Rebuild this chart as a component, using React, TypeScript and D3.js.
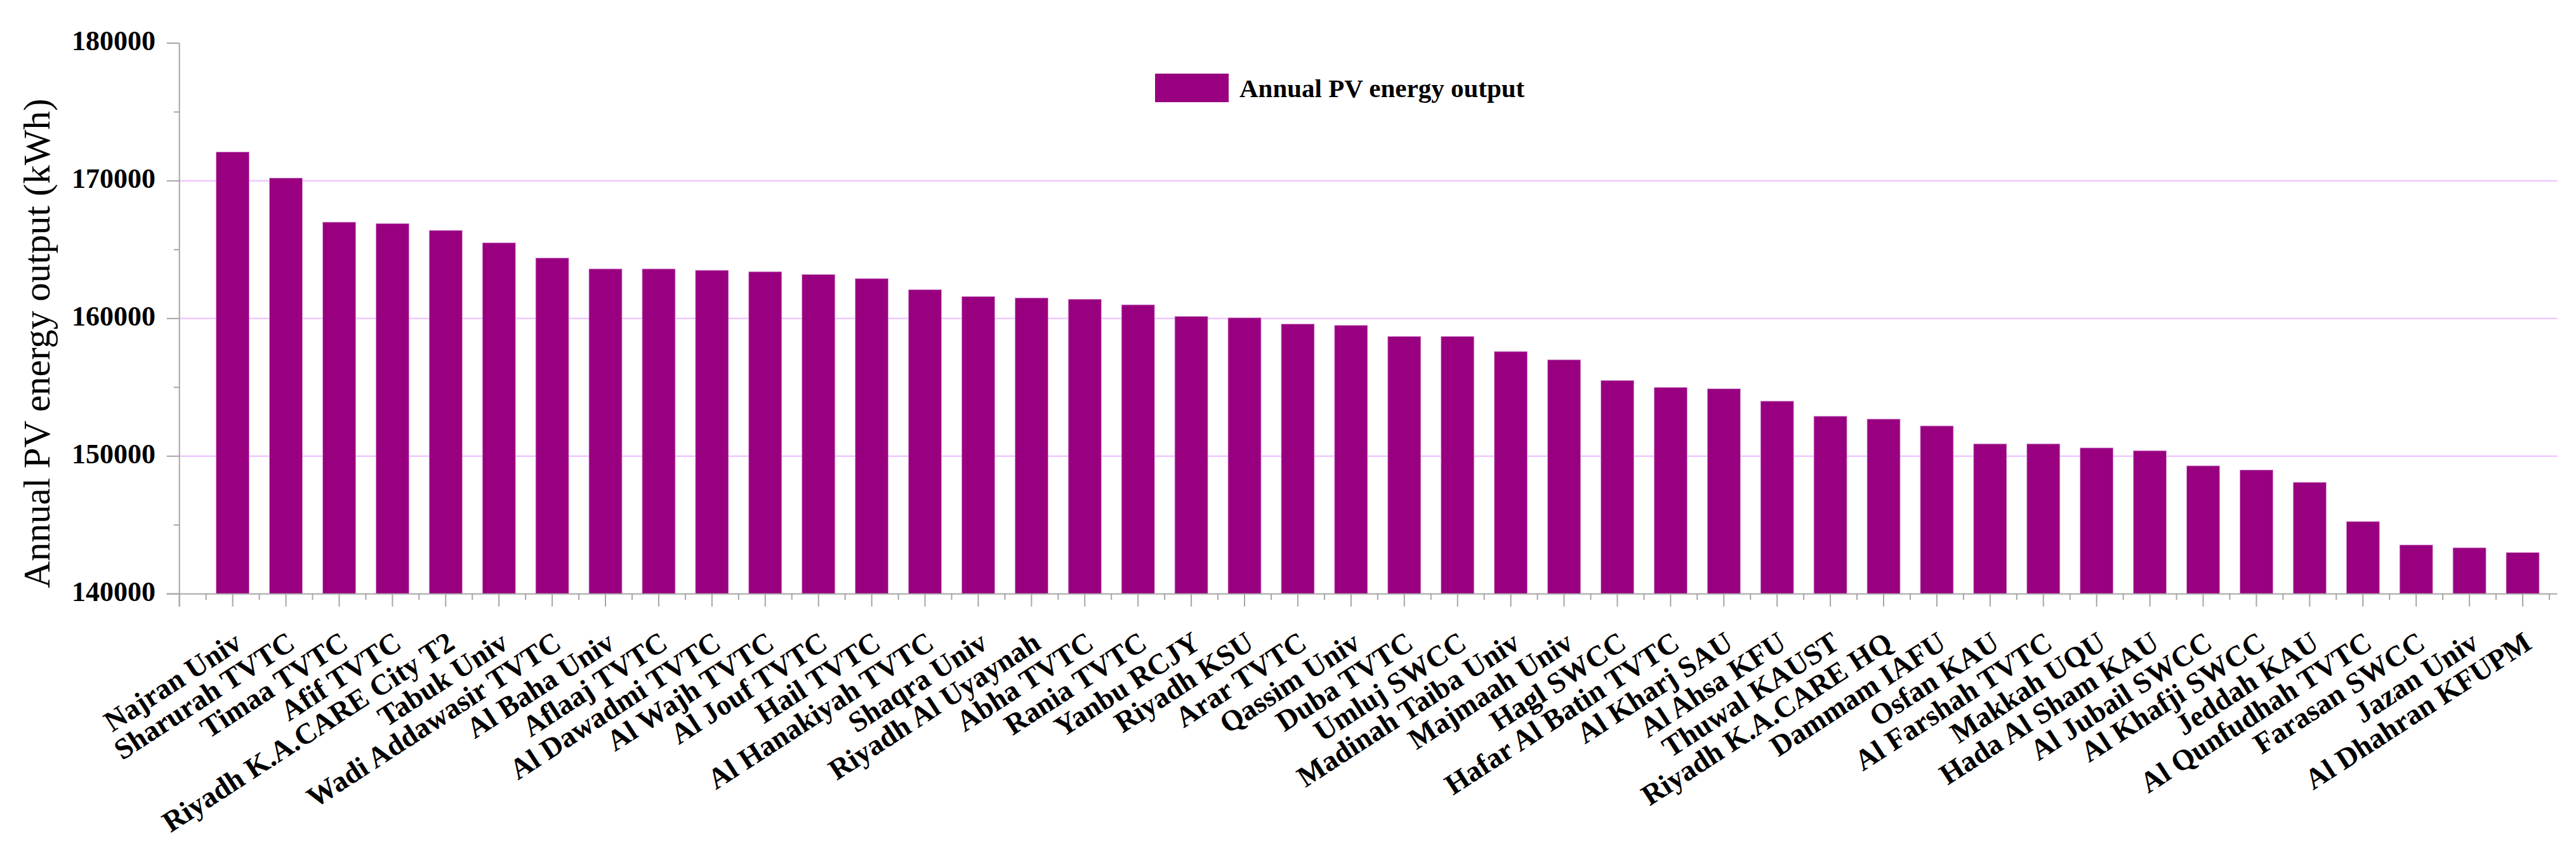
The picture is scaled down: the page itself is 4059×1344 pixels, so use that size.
import React from "react";
import * as d3 from "d3";

const categories: string[] = [
  "Najran Univ", "Sharurah TVTC", "Timaa TVTC", "Afif TVTC", "Riyadh K.A.CARE City T2",
  "Tabuk Univ", "Wadi Addawasir TVTC", "Al Baha Univ", "Aflaaj TVTC", "Al Dawadmi TVTC",
  "Al Wajh TVTC", "Al Jouf TVTC", "Hail TVTC", "Al Hanakiyah TVTC", "Shaqra Univ",
  "Riyadh Al Uyaynah", "Abha TVTC", "Rania TVTC", "Yanbu RCJY", "Riyadh KSU",
  "Arar TVTC", "Qassim Univ", "Duba TVTC", "Umluj SWCC", "Madinah Taiba Univ",
  "Majmaah Univ", "Hagl SWCC", "Hafar Al Batin TVTC", "Al Kharj SAU", "Al Ahsa KFU",
  "Thuwal KAUST", "Riyadh K.A.CARE HQ", "Dammam IAFU", "Osfan KAU", "Al Farshah TVTC",
  "Makkah UQU", "Hada Al Sham KAU", "Al Jubail SWCC", "Al Khafji SWCC", "Jeddah KAU",
  "Al Qunfudhah TVTC", "Farasan SWCC", "Jazan Univ", "Al Dhahran KFUPM",
];

const annualOutput: number[] = [
  172100, 170200, 167000, 166900, 166400,
  165500, 164400, 163600, 163600, 163500,
  163400, 163200, 162900, 162100, 161600,
  161500, 161400, 161000, 160150, 160050,
  159600, 159500, 158700, 158700, 157600,
  157000, 155500, 155000, 154900, 154000,
  152900, 152700, 152200, 150900, 150900,
  150600, 150400, 149300, 149000, 148100,
  145250, 143550, 143350, 143000,
];

const yMajorTicks: number[] = [140000, 150000, 160000, 170000, 180000];
const yMinorTicks: number[] = [145000, 155000, 165000, 175000];
const gridValues: number[] = [150000, 160000, 170000];

const seriesName = "Annual PV energy output";
const yTitle = "Annual PV energy output (kWh)";

const W = 4059;
const H = 1344;
const BAR_COLOR = "#990080";
const AXIS_COLOR = "#a6a6a6";
const GRID_COLOR = "#f0c8ff";
const SERIF = "'Liberation Serif', 'Times New Roman', Times, serif";

export default function App() {
  const n = categories.length;
  const x = d3.scaleLinear().domain([0, n]).range([282.7, 3975]);
  const y = d3.scaleLinear().domain([140000, 180000]).range([935.7, 68]);
  const step = x(1) - x(0);
  const barW = step * 0.62;
  const axisEnd = x(n + 0.65);
  const y0 = y(140000);

  const xMajor = d3.range(0, n + 1);
  const xMinor = d3.range(0, n + 1).map((i) => i + 0.5);

  return (
    <svg
      width={W}
      height={H}
      style={{ position: "absolute", left: 0, top: 0, background: "#fff" }}
    >
      <rect x={0} y={0} width={W} height={H} fill="#fff" />
      {gridValues.map((v) => (
        <line key={"g" + v} x1={x(0)} x2={axisEnd} y1={y(v)} y2={y(v)} stroke={GRID_COLOR} strokeWidth={2.5} />
      ))}
      {annualOutput.map((v, i) => (
        <rect
          key={"b" + i}
          x={x(i + 1) - barW / 2}
          y={y(v)}
          width={barW}
          height={y0 - y(v)}
          fill={BAR_COLOR}
          stroke="#d9a0d9"
          strokeWidth={0.8}
        />
      ))}
      <line x1={x(0)} x2={x(0)} y1={y(180000)} y2={y0 + 20} stroke={AXIS_COLOR} strokeWidth={2} />
      {yMajorTicks.map((v) => (
        <line key={"ym" + v} x1={x(0) - 20} x2={x(0)} y1={y(v)} y2={y(v)} stroke={AXIS_COLOR} strokeWidth={2} />
      ))}
      {yMinorTicks.map((v) => (
        <line key={"yn" + v} x1={x(0) - 9} x2={x(0)} y1={y(v)} y2={y(v)} stroke={AXIS_COLOR} strokeWidth={2} />
      ))}
      {yMajorTicks.map((v) => (
        <text
          key={"yl" + v}
          x={245}
          y={y(v) + 11}
          textAnchor="end"
          fontFamily={SERIF}
          fontWeight="bold"
          fontSize={44}
          fill="#000"
        >
          {v}
        </text>
      ))}
      <line x1={x(0) - 20} x2={axisEnd} y1={y0} y2={y0} stroke={AXIS_COLOR} strokeWidth={2} />
      {xMajor.map((i) => (
        <line key={"xm" + i} x1={x(i)} x2={x(i)} y1={y0} y2={y0 + 20} stroke={AXIS_COLOR} strokeWidth={2} />
      ))}
      {xMinor.map((i) => (
        <line key={"xn" + i} x1={x(i)} x2={x(i)} y1={y0} y2={y0 + 9.5} stroke={AXIS_COLOR} strokeWidth={2} />
      ))}
      {categories.map((c, i) => {
        const px = x(i + 1) + 17;
        const py = 1020;
        return (
          <text
            key={"xl" + i}
            transform={`translate(${px},${py}) rotate(-33)`}
            textAnchor="end"
            fontFamily={SERIF}
            fontWeight="bold"
            fontSize={46}
            fill="#000"
          >
            {c}
          </text>
        );
      })}
      <text
        transform={`translate(78,541) rotate(-90)`}
        textAnchor="middle"
        fontFamily={SERIF}
        fontSize={59}
        fill="#000"
      >
        {yTitle}
      </text>
      <rect x={1820} y={116} width={116} height={45} fill={BAR_COLOR} />
      <text x={1953} y={153} fontFamily={SERIF} fontWeight="bold" fontSize={41} fill="#000">
        {seriesName}
      </text>
    </svg>
  );
}
